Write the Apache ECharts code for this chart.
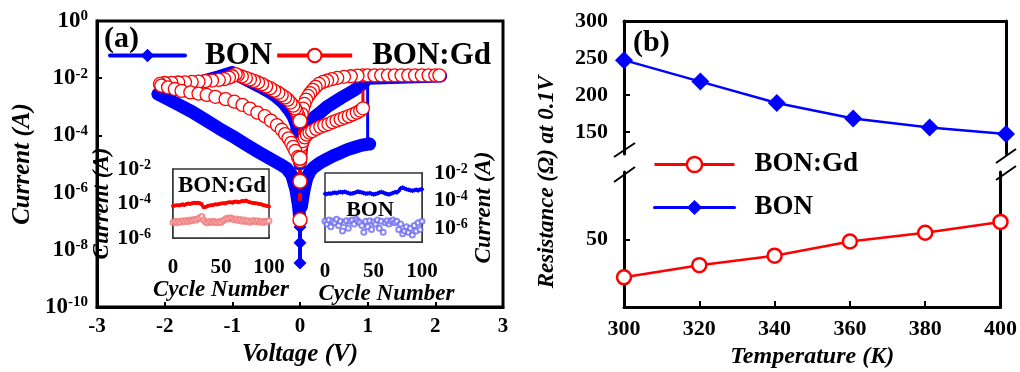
<!DOCTYPE html>
<html>
<head>
<meta charset="utf-8">
<script src="https://cdn.jsdelivr.net/npm/echarts@6.0.0/dist/echarts.min.js"></script>
<style>
html,body{margin:0;padding:0;background:#fff;}
#chart{width:1020px;height:372px;}
</style>
</head>
<body>
<div id="chart"></div>
<script>
// ---------------- Panel (a): I-V sweeps, [voltage (V), current (A)] ----------------
const bonHrsPos = [[0.02,3.2e-7],[0.06,1.26e-6],[0.1,3.2e-6],[0.15,5.6e-6],[0.2,7.6e-6],[0.3,1.12e-5],[0.4,1.51e-5],[0.5,2.0e-5],[0.6,2.5e-5],[0.7,3.2e-5],[0.8,3.8e-5],[0.9,4.5e-5],[1.0,5.0e-5],[1.03,5.0e-5]];
const bonSet = [[1.0,5.0e-5],[1.0,1.2e-2]];
const bonLoop = [[1.0,1.2e-2],[1.25,1.2e-2],[1.5,1.2e-2],[1.75,1.2e-2],[2.0,1.2e-2],[2.08,1.2e-2],[1.0,1.0e-2],
  [0.9,5.6e-3],[0.8,3.8e-3],[0.7,2.75e-3],[0.6,2.0e-3],[0.5,1.41e-3],[0.4,1.0e-3],[0.3,6.3e-4],[0.2,4.2e-4],[0.15,3.2e-4],[0.1,2.0e-4],[0.05,1.0e-4],[0.02,3.2e-5],[0,1.0e-5],
  [-0.02,3.2e-5],[-0.05,2.24e-4],[-0.1,4.5e-4],[-0.15,7.1e-4],[-0.25,1.41e-3],[-0.35,2.24e-3],[-0.45,3.3e-3],[-0.6,5.2e-3],[-0.75,7.9e-3],[-0.9,1.2e-2],[-1.0,1.58e-2],
  [-1.2,1.12e-2],[-1.4,8.3e-3],[-1.6,6.3e-3],[-1.8,4.7e-3],[-2.0,3.5e-3],[-2.1,2.8e-3],
  [-2.0,2.1e-3],[-1.8,1.2e-3],[-1.6,6.8e-4],[-1.4,3.5e-4],[-1.2,1.78e-4],[-1.0,9.5e-5],[-0.8,4.8e-5],[-0.6,2.5e-5],[-0.45,1.58e-5],[-0.3,1.0e-5],[-0.2,7.1e-6],[-0.12,4.0e-6],[-0.06,1.26e-6],[-0.02,3.2e-7],[0,1.0e-7]];
const bonZero = [[0,1.0e-7],[0,6.3e-8],[0,1.78e-8],[0,3.5e-9]];

const gdHrsPos = [[0,2.5e-5],[0.02,4.5e-5],[0.04,6.3e-5],[0.07,8.5e-5],[0.1,1.07e-4],[0.14,1.26e-4],[0.18,1.41e-4],[0.24,1.7e-4],[0.3,2.0e-4],[0.36,2.24e-4],[0.42,2.5e-4],[0.48,2.9e-4],[0.54,3.3e-4],[0.6,3.7e-4],[0.66,4.2e-4],[0.72,4.7e-4],[0.78,5.4e-4],[0.84,6.3e-4],[0.89,7.4e-4],[0.93,8.9e-4]];
const gdSet = [[0.93,8.9e-4],[0.93,1.26e-2]];
const gdLoop = [[0.93,1.26e-2],[1.0,1.26e-2],[1.1,1.26e-2],[1.2,1.26e-2],[1.3,1.26e-2],[1.4,1.26e-2],[1.5,1.26e-2],[1.6,1.26e-2],[1.7,1.26e-2],[1.8,1.26e-2],[1.9,1.26e-2],[2.0,1.26e-2],[2.06,1.26e-2],
  [0.85,1.23e-2],[0.75,1.17e-2],[0.65,1.12e-2],[0.55,1.02e-2],[0.47,9.3e-3],[0.4,8.3e-3],[0.34,7.4e-3],[0.28,6.3e-3],[0.23,5.0e-3],[0.19,3.9e-3],[0.15,3.0e-3],[0.12,2.4e-3],[0.09,1.78e-3],[0.065,1.26e-3],[0.045,8.7e-4],[0.025,5.6e-4],[0,3.2e-4],
  [-0.025,5.0e-4],[-0.05,7.1e-4],[-0.075,8.9e-4],[-0.1,1.1e-3],[-0.14,1.41e-3],[-0.18,1.78e-3],[-0.22,2.14e-3],[-0.27,2.57e-3],[-0.32,3.1e-3],[-0.38,3.7e-3],[-0.44,4.5e-3],[-0.5,5.2e-3],[-0.56,6.2e-3],[-0.62,7.1e-3],[-0.68,8.1e-3],[-0.74,9.1e-3],[-0.8,1.02e-2],[-0.86,1.15e-2],[-0.92,1.29e-2],[-0.95,1.38e-2],
  [-1.0,1.17e-2],[-1.05,1.05e-2],[-1.12,9.3e-3],[-1.2,8.7e-3],[-1.3,8.3e-3],[-1.4,7.9e-3],[-1.5,7.6e-3],[-1.6,7.4e-3],[-1.7,7.2e-3],[-1.8,7.1e-3],[-1.9,6.9e-3],[-2.0,6.8e-3],[-2.07,6.3e-3],
  [-2.05,5.5e-3],[-1.95,4.8e-3],[-1.85,4.2e-3],[-1.75,3.6e-3],[-1.62,3.2e-3],[-1.5,2.9e-3],[-1.38,2.6e-3],[-1.25,2.24e-3],[-1.1,1.86e-3],[-0.97,1.51e-3],[-0.85,1.17e-3],[-0.74,8.7e-4],[-0.63,6.3e-4],[-0.52,4.7e-4],[-0.43,3.3e-4],[-0.34,2.3e-4],[-0.27,1.58e-4],[-0.22,1.12e-4],[-0.17,7.9e-5],[-0.13,5.5e-5],[-0.1,4.0e-5],[-0.07,2.9e-5],[-0.03,1.78e-5],[0,1.26e-5]];
const gdZero = [[0,3.2e-4],[0,1.6e-5],[0,2.5e-6],[0,1.12e-7]];

// ---------------- Insets: endurance, current (A) per cycle ----------------
const cycles = [0,2,4,6,8,10,12,14,16,18,20,22,24,26,28,30,32,34,36,38,40,42,44,46,48,50,52,54,56,58,60,62,64,66,68,70,72,74,76,78,80,82,84,86,88,90,92,94,96,98,100];
const gdOn = [7.1e-5,7.6e-5,7.9e-5,7.6e-5,8.3e-5,8.9e-5,8.3e-5,9.3e-5,1.0e-4,9.5e-5,1.05e-4,1.12e-4,1.07e-4,1.12e-4,1.05e-4,9.5e-5,6.0e-5,6.3e-5,7.1e-5,7.6e-5,7.9e-5,8.3e-5,8.9e-5,8.7e-5,9.5e-5,1.0e-4,1.05e-4,1.0e-4,1.12e-4,1.17e-4,1.2e-4,1.12e-4,1.26e-4,1.32e-4,1.2e-4,1.26e-4,1.41e-4,1.35e-4,1.48e-4,1.32e-4,1.2e-4,1.12e-4,1.07e-4,1.05e-4,1.0e-4,9.5e-5,8.9e-5,7.9e-5,7.6e-5,7.1e-5,6.6e-5];
const gdOff = [7.9e-6,8.9e-6,7.6e-6,9.5e-6,8.3e-6,1.0e-5,8.7e-6,1.05e-5,9.1e-6,1.12e-5,1.0e-5,1.2e-5,1.1e-5,1.32e-5,1.51e-5,1.78e-5,1.12e-5,8.3e-6,7.6e-6,8.9e-6,7.9e-6,9.5e-6,8.3e-6,7.6e-6,8.9e-6,7.9e-6,1.0e-5,1.2e-5,1.41e-5,1.26e-5,1.51e-5,1.32e-5,1.12e-5,1.26e-5,1.05e-5,1.2e-5,9.5e-6,1.1e-5,8.9e-6,1.0e-5,8.3e-6,9.5e-6,1.05e-5,8.7e-6,1.0e-5,8.3e-6,9.1e-6,7.9e-6,9.5e-6,8.7e-6,1.0e-5];
const bonOn = [3.2e-4,3.0e-4,3.3e-4,3.2e-4,3.5e-4,3.8e-4,3.5e-4,4.0e-4,4.2e-4,3.8e-4,4.4e-4,4.0e-4,3.5e-4,3.2e-4,3.3e-4,3.6e-4,4.0e-4,4.5e-4,4.2e-4,3.8e-4,3.5e-4,3.2e-4,3.3e-4,3.5e-4,3.2e-4,2.8e-4,3.0e-4,3.3e-4,3.8e-4,4.2e-4,3.8e-4,3.3e-4,3.0e-4,2.8e-4,3.2e-4,3.5e-4,4.0e-4,3.8e-4,5.0e-4,7.9e-4,8.9e-4,7.6e-4,6.6e-4,6.0e-4,5.6e-4,5.2e-4,5.6e-4,6.0e-4,5.5e-4,6.3e-4,6.6e-4];
const bonOff = [3.2e-6,2.0e-6,4.0e-6,1.26e-6,3.2e-6,2.5e-6,4.5e-6,1.58e-6,3.2e-6,6.3e-7,2.5e-6,3.5e-6,1.0e-6,3.2e-6,4.0e-6,2.0e-6,4.5e-6,3.2e-6,2.5e-6,1.58e-6,5.0e-7,3.2e-6,1.26e-6,3.5e-6,7.9e-7,2.8e-6,2.0e-6,4.0e-6,1.0e-6,3.2e-6,5.0e-7,2.5e-6,3.5e-6,2.0e-6,3.2e-6,4.0e-6,2.5e-6,3.2e-6,7.9e-7,2.0e-6,4.0e-7,6.3e-7,1.26e-6,5.0e-7,1.0e-6,3.2e-7,1.58e-6,6.3e-7,2.5e-6,7.9e-7,3.2e-6];

// ---------------- Panel (b): resistance at 0.1 V vs temperature ----------------
const temps = [300,320,340,360,380,400];
const resBON = [247,218,189,168,156,147];
const resGd = [22,31,38,48.5,55,63];
const resUpperTicks = [150,200,250,300];
const resLowerTicks = [50];

// ---------------- styling ----------------
const F = "'Liberation Serif','Times New Roman',serif";
const BLUE = '#0000ff', RED = '#ff0000', PINK = '#f07a7a', LBLUE = '#6d6df2', BAND = '#f7b0b0';
const pair = (xs, ys) => xs.map((x, i) => [x, ys[i]]);
const powRich = (b, s, up) => ({
  b: {fontFamily: F, fontWeight: 'bold', fontSize: b, color: '#000'},
  s: {fontFamily: F, fontWeight: 'bold', fontSize: s, color: '#000', verticalAlign: 'top', padding: [0, 0, up, 0]}
});
const powFmt = v => '{b|10}{s|' + Math.round(Math.log10(v)) + '}';
const lab = (size, extra) => Object.assign({fontFamily: F, fontWeight: 'bold', fontSize: size, color: '#000'}, extra || {});
const nameStyle = (size, extra) => Object.assign({fontFamily: F, fontWeight: 'bold', fontStyle: 'italic', fontSize: size, color: '#000'}, extra || {});
const axLine = w => ({show: true, onZero: false, lineStyle: {color: '#000', width: w}});

const blueBand = data => ({name: 'BON', type: 'line', xAxisIndex: 0, yAxisIndex: 0, data, clip: false,
  symbol: 'diamond', symbolSize: 13, itemStyle: {color: BLUE},
  lineStyle: {color: BLUE, width: 13, join: 'round', cap: 'round'}});
const redRings = data => ({name: 'BON:Gd', type: 'line', xAxisIndex: 0, yAxisIndex: 0, data, clip: false,
  symbol: 'circle', symbolSize: 13, itemStyle: {color: '#fff', borderColor: RED, borderWidth: 1.3},
  lineStyle: {color: BAND, width: 12, join: 'round', cap: 'round'}});

const option = {
  animation: false,
  backgroundColor: '#fff',
  grid: [
    {left: 97, top: 21, width: 406, height: 291, show: true, borderColor: '#000', borderWidth: 3},
    {left: 624, right: 14, top: 21, bottom: 218},
    {left: 624, right: 14, top: 172, bottom: 65},
    {left: 173, top: 169, width: 96, height: 69, show: true, backgroundColor: '#fff', borderColor: '#333', borderWidth: 1.5, z: 3},
    {left: 325, top: 173, width: 97, height: 69, show: true, backgroundColor: '#fff', borderColor: '#333', borderWidth: 1.5, z: 3}
  ],
  xAxis: [
    {gridIndex: 0, type: 'value', min: -3, max: 3, interval: 1, axisLine: axLine(3),
      axisTick: {inside: true, length: 5, lineStyle: {width: 2, color: '#000'}},
      axisLabel: lab(21, {margin: 9}), splitLine: {show: false},
      name: 'Voltage (V)', nameLocation: 'middle', nameGap: 34, nameTextStyle: nameStyle(25)},
    {gridIndex: 1, type: 'value', min: 300, max: 400, position: 'top', axisLine: axLine(3),
      axisTick: {show: false}, axisLabel: {show: false}, splitLine: {show: false}},
    {gridIndex: 2, type: 'value', min: 300, max: 400, interval: 20, axisLine: axLine(3),
      axisTick: {inside: true, length: 6, lineStyle: {width: 2, color: '#000'}},
      axisLabel: lab(22, {margin: 11}), splitLine: {show: false},
      name: 'Temperature (K)', nameLocation: 'middle', nameGap: 38, nameTextStyle: nameStyle(24)},
    {gridIndex: 3, type: 'value', min: 0, max: 100, interval: 50, axisLine: axLine(1.5),
      axisTick: {inside: true, length: 3, lineStyle: {color: '#333'}},
      axisLabel: lab(21, {margin: 19}), splitLine: {show: false},
      name: 'Cycle Number', nameLocation: 'middle', nameGap: 38, nameTextStyle: nameStyle(23)},
    {gridIndex: 4, type: 'value', min: 0, max: 100, interval: 50, axisLine: axLine(1.5),
      axisTick: {inside: true, length: 3, lineStyle: {color: '#333'}},
      axisLabel: lab(21, {margin: 19}), splitLine: {show: false},
      name: 'Cycle Number', nameLocation: 'middle', nameGap: 40, nameTextStyle: nameStyle(23, {padding: [0, 0, 0, 26]})}
  ],
  yAxis: [
    {gridIndex: 0, type: 'log', logBase: 10, min: 1e-10, max: 1, interval: 2, axisLine: axLine(3),
      axisTick: {inside: true, length: 5, lineStyle: {width: 2, color: '#000'}},
      axisLabel: {margin: 9, formatter: powFmt, rich: powRich(23, 15, 9)}, splitLine: {show: false}, minorTick: {show: false},
      name: 'Current (A)', nameLocation: 'middle', nameRotate: 90, nameGap: 62, nameTextStyle: nameStyle(25)},
    {gridIndex: 1, type: 'value', min: 120, max: 300, axisLine: axLine(3),
      axisTick: {inside: true, length: 6, customValues: resUpperTicks, lineStyle: {width: 2, color: '#000'}},
      axisLabel: lab(22, {margin: 16, customValues: resUpperTicks}), splitLine: {show: false}},
    {gridIndex: 1, type: 'value', min: 120, max: 300, position: 'right', axisLine: axLine(3),
      axisTick: {show: false}, axisLabel: {show: false}, splitLine: {show: false}},
    {gridIndex: 2, type: 'value', min: 0, max: 100, axisLine: axLine(3),
      axisTick: {inside: true, length: 6, customValues: resLowerTicks, lineStyle: {width: 2, color: '#000'}},
      axisLabel: lab(22, {margin: 16, customValues: resLowerTicks}), splitLine: {show: false}},
    {gridIndex: 2, type: 'value', min: 0, max: 100, position: 'right', axisLine: axLine(3),
      axisTick: {show: false}, axisLabel: {show: false}, splitLine: {show: false}},
    {gridIndex: 3, type: 'log', logBase: 10, min: 1e-6, max: 1e-2, interval: 2, axisLine: axLine(1.5),
      axisTick: {inside: true, length: 3, lineStyle: {color: '#333'}},
      axisLabel: {margin: 22, formatter: powFmt, rich: powRich(22, 14, 8)}, splitLine: {show: false},
      name: 'Current (A)', nameLocation: 'middle', nameRotate: 90, nameGap: 43, nameTextStyle: nameStyle(23)},
    {gridIndex: 4, type: 'log', logBase: 10, min: 1e-7, max: 1e-2, interval: 1, position: 'right', axisLine: axLine(1.5),
      axisTick: {show: false},
      axisLabel: {margin: 12, formatter: v => { const e = Math.round(Math.log10(v)); return (e % 2 === 0) ? powFmt(v) : ''; }, rich: powRich(22, 14, 8)},
      splitLine: {show: false},
      name: 'Current (A)', nameLocation: 'middle', nameRotate: 90, nameGap: 51, nameTextStyle: nameStyle(23)}
  ],
  legend: [
    {data: ['BON', 'BON:Gd'], orient: 'horizontal', left: 108, top: 40, padding: 0, itemWidth: 75, itemHeight: 17, itemGap: 3,
      selectedMode: false, lineStyle: {width: 4}, textStyle: lab(31, {padding: [0, 0, 0, 15]})},
    {data: ['BON:Gd', 'BON'], orient: 'vertical', left: 653, top: 151, padding: 0, itemWidth: 80, itemHeight: 19, itemGap: 16,
      selectedMode: false, lineStyle: {width: 3}, itemStyle: {borderWidth: 2.5}, textStyle: lab(27, {padding: [0, 0, 0, 15]})}
  ],
  series: [
    blueBand(bonHrsPos),
    blueBand(bonLoop),
    {name: 'BON', type: 'line', xAxisIndex: 0, yAxisIndex: 0, data: bonSet, symbol: 'none', clip: false, lineStyle: {color: BLUE, width: 3}},
    {name: 'BON', type: 'line', xAxisIndex: 0, yAxisIndex: 0, data: bonZero, clip: false, symbol: 'diamond', symbolSize: 13,
      itemStyle: {color: BLUE}, lineStyle: {color: BLUE, width: 4}},
    {name: 'BON:Gd', type: 'line', xAxisIndex: 0, yAxisIndex: 0, data: gdSet, symbol: 'none', clip: false,
      itemStyle: {color: '#fff', borderColor: RED, borderWidth: 2}, lineStyle: {color: RED, width: 3}},
    redRings(gdHrsPos),
    redRings(gdLoop),
    {name: 'BON:Gd', type: 'line', xAxisIndex: 0, yAxisIndex: 0, data: gdZero, clip: false, symbol: 'circle', symbolSize: 14,
      itemStyle: {color: '#fff', borderColor: RED, borderWidth: 1.5}, lineStyle: {color: RED, width: 4}},
    // panel (b)
    {name: 'BON', type: 'line', xAxisIndex: 1, yAxisIndex: 1, data: pair(temps, resBON), clip: false,
      symbol: 'diamond', symbolSize: 18, itemStyle: {color: BLUE}, lineStyle: {color: BLUE, width: 2.5}},
    {name: 'BON:Gd', type: 'line', xAxisIndex: 2, yAxisIndex: 3, data: pair(temps, resGd), clip: false,
      symbol: 'circle', symbolSize: 14, itemStyle: {color: '#fff', borderColor: RED, borderWidth: 2.5}, lineStyle: {color: RED, width: 2.5}},
    // insets
    {name: 'gdOn', type: 'line', xAxisIndex: 3, yAxisIndex: 5, data: pair(cycles, gdOn), z: 4,
      symbol: 'circle', symbolSize: 4, itemStyle: {color: RED}, lineStyle: {color: RED, width: 3}},
    {name: 'gdOff', type: 'scatter', xAxisIndex: 3, yAxisIndex: 5, data: pair(cycles, gdOff), z: 4,
      symbol: 'emptyCircle', symbolSize: 5, itemStyle: {color: PINK, borderWidth: 1}},
    {name: 'bonOn', type: 'line', xAxisIndex: 4, yAxisIndex: 6, data: pair(cycles, bonOn), z: 4,
      symbol: 'diamond', symbolSize: 5, itemStyle: {color: BLUE}, lineStyle: {color: BLUE, width: 3}},
    {name: 'bonOff', type: 'scatter', xAxisIndex: 4, yAxisIndex: 6, data: pair(cycles, bonOff), z: 4,
      symbol: 'emptyCircle', symbolSize: 5, itemStyle: {color: LBLUE, borderWidth: 1}}
  ],
  graphic: [
    {type: 'text', left: 104, top: 24, z: 10, style: {text: '(a)', font: 'bold 30px ' + F, fill: '#000'}},
    {type: 'text', left: 633, top: 28, z: 10, style: {text: '(b)', font: 'bold 30px ' + F, fill: '#000'}},
    {type: 'text', x: 547, y: 182, rotation: Math.PI / 2, z: 10,
      style: {text: 'Resistance (\u03a9) at 0.1V', font: 'italic bold 23px ' + F, fill: '#000', align: 'center', verticalAlign: 'middle', textAlign: 'center', textVerticalAlign: 'middle'}},
    {type: 'text', x: 222, y: 186, z: 10,
      style: {text: 'BON:Gd', font: 'bold 23px ' + F, fill: '#000', align: 'center', verticalAlign: 'middle', textAlign: 'center', textVerticalAlign: 'middle'}},
    {type: 'text', x: 370, y: 210, z: 10,
      style: {text: 'BON', font: 'bold 22px ' + F, fill: '#000', align: 'center', verticalAlign: 'middle', textAlign: 'center', textVerticalAlign: 'middle'}},
    {type: 'line', z: 10, shape: {x1: 614, y1: 157, x2: 635, y2: 143}, style: {stroke: '#000', lineWidth: 2}},
    {type: 'line', z: 10, shape: {x1: 614, y1: 182, x2: 635, y2: 167}, style: {stroke: '#000', lineWidth: 2}},
    {type: 'line', z: 10, shape: {x1: 996, y1: 163, x2: 1016, y2: 149}, style: {stroke: '#000', lineWidth: 2}},
    {type: 'line', z: 10, shape: {x1: 996, y1: 180, x2: 1016, y2: 166}, style: {stroke: '#000', lineWidth: 2}}
  ]
};

const chart = echarts.init(document.getElementById('chart'), null, {renderer: 'canvas'});
chart.setOption(option);
</script>
</body>
</html>
